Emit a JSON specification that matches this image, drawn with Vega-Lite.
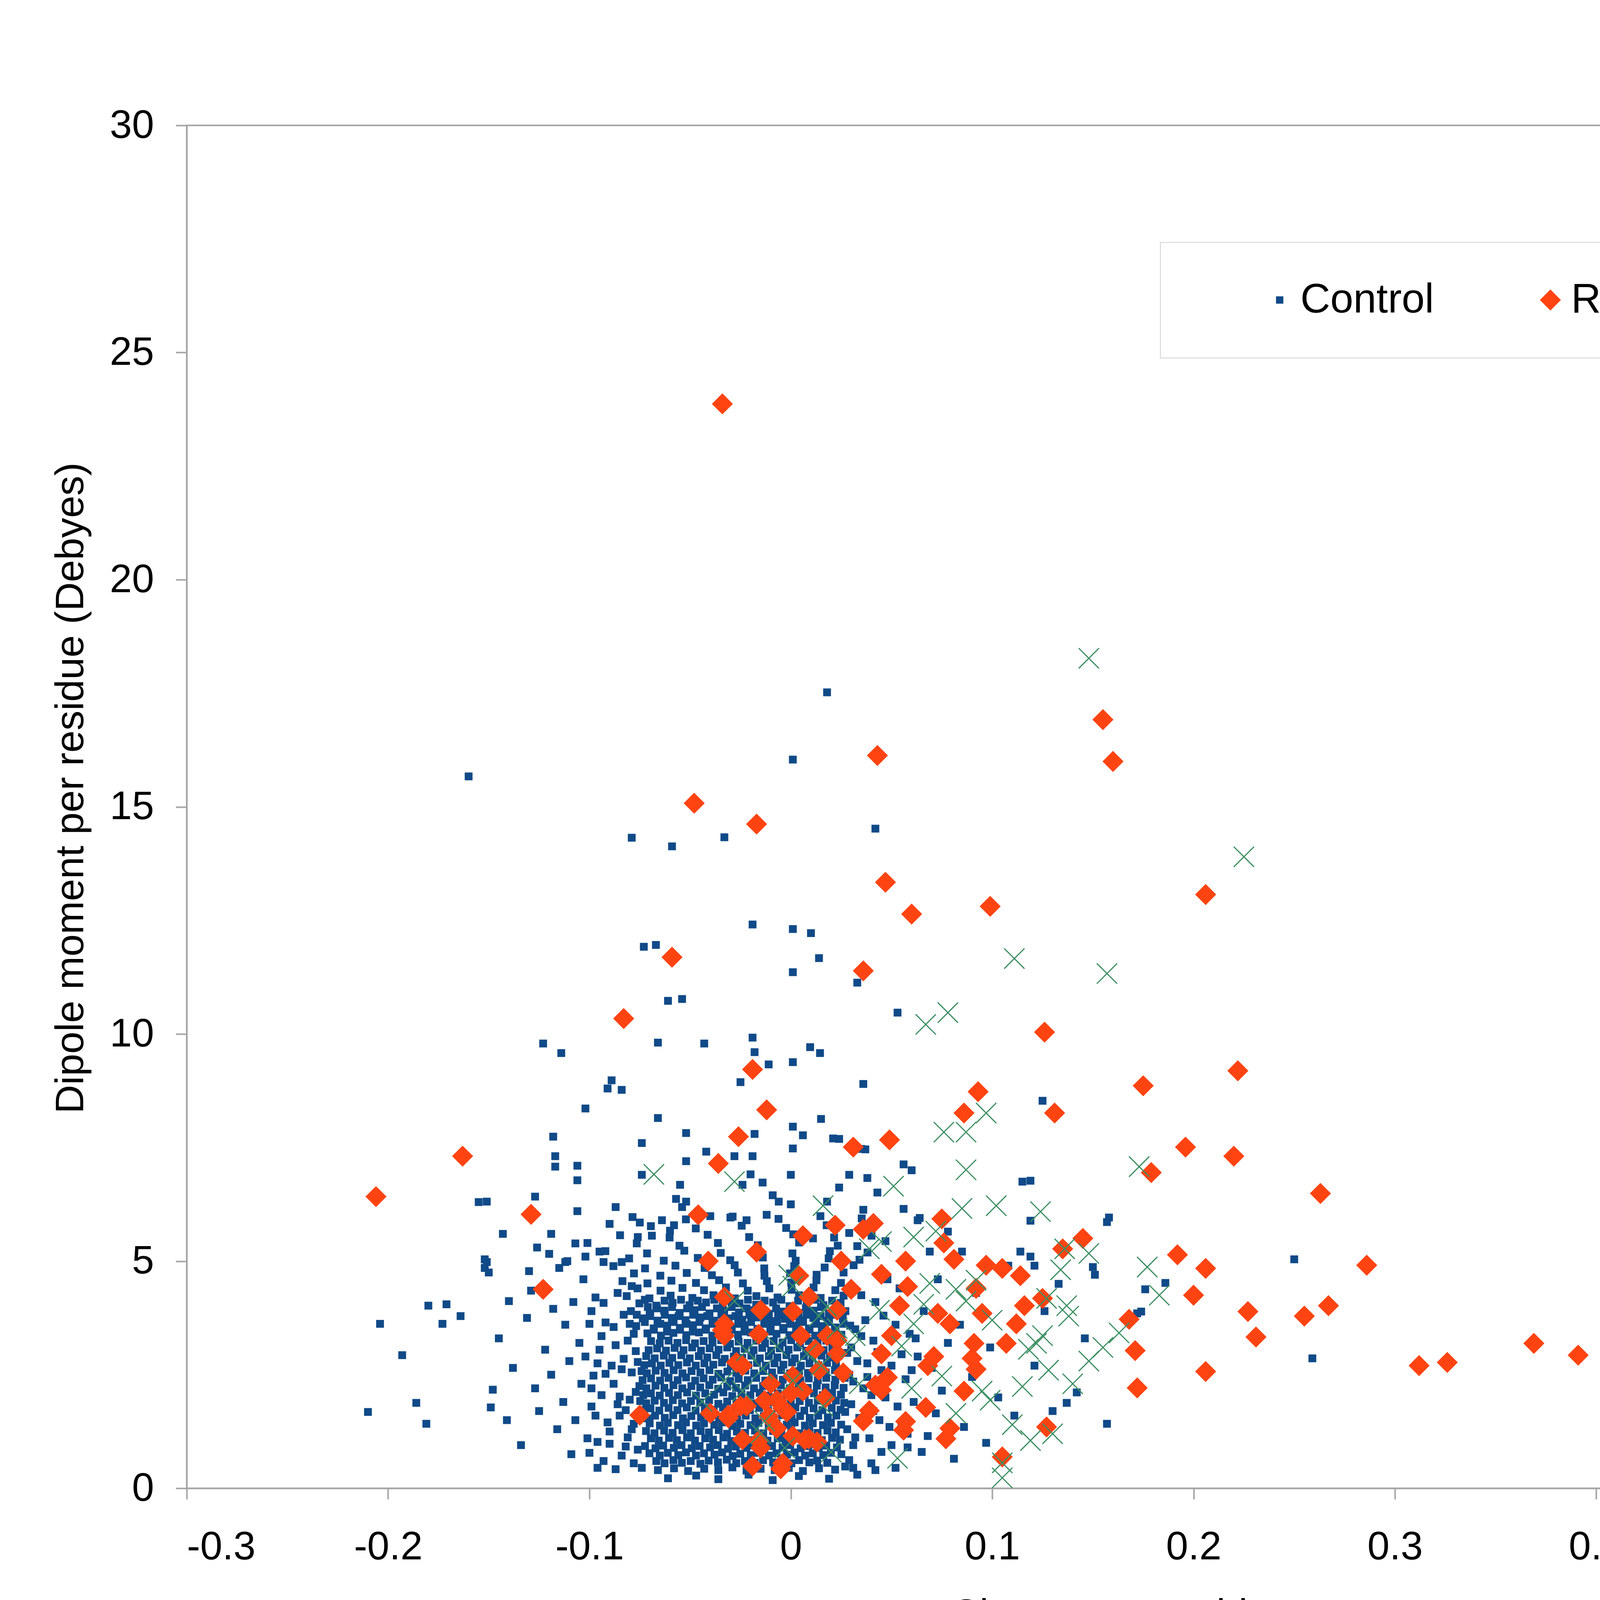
{
"$schema":"https://vega.github.io/schema/vega-lite/v6.json",
"width":5155,"height":3489,
"autosize":{"type":"none"},
"padding":{"left":478,"top":321,"right":367,"bottom":690},
"background":"white",
"config":{
 "font":"Liberation Sans",
 "view":{"stroke":"#a6a6a6","strokeWidth":4},
 "axis":{"grid":false,"domainColor":"#a6a6a6","domainWidth":4,"tickColor":"#a6a6a6","tickWidth":4,"tickSize":28,"labelFont":"Liberation Sans","labelFontSize":102,"labelColor":"#000000","titleFont":"Liberation Sans","titleFontSize":102,"titleFontWeight":"normal","titleColor":"#000000"}
},
"data":{"values":[
{"s":"c","x":-0.061,"y":0.22},{"s":"c","x":-0.047,"y":0.28},{"s":"c","x":-0.036,"y":0.2},{"s":"c","x":-0.021,"y":0.3},{"s":"c","x":-0.009,"y":0.18},{"s":"c","x":0.004,"y":0.27},{"s":"c","x":0.019,"y":0.21},{"s":"c","x":0.033,"y":0.3},
{"s":"c","x":-0.074,"y":0.45},{"s":"c","x":-0.066,"y":0.4},{"s":"c","x":-0.058,"y":0.44},{"s":"c","x":-0.051,"y":0.38},{"s":"c","x":-0.043,"y":0.43},{"s":"c","x":-0.036,"y":0.4},{"s":"c","x":-0.029,"y":0.46},{"s":"c","x":-0.022,"y":0.39},{"s":"c","x":-0.015,"y":0.43},{"s":"c","x":-0.008,"y":0.4},{"s":"c","x":-0.001,"y":0.45},{"s":"c","x":0.006,"y":0.38},{"s":"c","x":0.014,"y":0.44},{"s":"c","x":0.022,"y":0.41},{"s":"c","x":0.031,"y":0.45},{"s":"c","x":0.042,"y":0.4},
{"s":"c","x":-0.0668,"y":0.6},{"s":"c","x":-0.0627,"y":0.55},{"s":"c","x":-0.0583,"y":0.62},{"s":"c","x":-0.0541,"y":0.56},{"s":"c","x":-0.0497,"y":0.6},{"s":"c","x":-0.0449,"y":0.54},{"s":"c","x":-0.0408,"y":0.61},{"s":"c","x":-0.0362,"y":0.57},{"s":"c","x":-0.0318,"y":0.63},{"s":"c","x":-0.0271,"y":0.55},{"s":"c","x":-0.0228,"y":0.6},{"s":"c","x":-0.0179,"y":0.56},{"s":"c","x":-0.0138,"y":0.62},{"s":"c","x":-0.0088,"y":0.57},{"s":"c","x":-0.0047,"y":0.6},{"s":"c","x":0.0003,"y":0.55},{"s":"c","x":0.0041,"y":0.62},{"s":"c","x":0.0092,"y":0.57},{"s":"c","x":0.0131,"y":0.61},{"s":"c","x":0.0181,"y":0.56},
{"s":"c","x":-0.0702,"y":0.77},{"s":"c","x":-0.0651,"y":0.72},{"s":"c","x":-0.0611,"y":0.78},{"s":"c","x":-0.0559,"y":0.73},{"s":"c","x":-0.0521,"y":0.79},{"s":"c","x":-0.0471,"y":0.72},{"s":"c","x":-0.0431,"y":0.77},{"s":"c","x":-0.0379,"y":0.74},{"s":"c","x":-0.0341,"y":0.79},{"s":"c","x":-0.0289,"y":0.71},{"s":"c","x":-0.0251,"y":0.76},{"s":"c","x":-0.0199,"y":0.73},{"s":"c","x":-0.0161,"y":0.78},{"s":"c","x":-0.0109,"y":0.72},{"s":"c","x":-0.0071,"y":0.77},{"s":"c","x":-0.0019,"y":0.74},{"s":"c","x":0.0019,"y":0.79},{"s":"c","x":0.0071,"y":0.72},{"s":"c","x":0.0109,"y":0.77},{"s":"c","x":0.0161,"y":0.73},{"s":"c","x":0.0199,"y":0.78},{"s":"c","x":0.0251,"y":0.75},
{"s":"c","x":-0.0724,"y":0.93},{"s":"c","x":-0.0672,"y":0.88},{"s":"c","x":-0.0634,"y":0.94},{"s":"c","x":-0.0581,"y":0.89},{"s":"c","x":-0.0543,"y":0.95},{"s":"c","x":-0.0492,"y":0.88},{"s":"c","x":-0.0453,"y":0.93},{"s":"c","x":-0.0401,"y":0.9},{"s":"c","x":-0.0363,"y":0.95},{"s":"c","x":-0.0312,"y":0.87},{"s":"c","x":-0.0273,"y":0.92},{"s":"c","x":-0.0221,"y":0.89},{"s":"c","x":-0.0184,"y":0.94},{"s":"c","x":-0.0131,"y":0.88},{"s":"c","x":-0.0093,"y":0.93},{"s":"c","x":-0.0041,"y":0.9},{"s":"c","x":-0.0003,"y":0.95},{"s":"c","x":0.0049,"y":0.88},{"s":"c","x":0.0087,"y":0.93},{"s":"c","x":0.0139,"y":0.89},{"s":"c","x":0.0176,"y":0.94},{"s":"c","x":0.0229,"y":0.9},
{"s":"c","x":-0.0695,"y":1.1},{"s":"c","x":-0.0656,"y":1.05},{"s":"c","x":-0.0605,"y":1.11},{"s":"c","x":-0.0566,"y":1.06},{"s":"c","x":-0.0515,"y":1.12},{"s":"c","x":-0.0476,"y":1.05},{"s":"c","x":-0.0425,"y":1.1},{"s":"c","x":-0.0386,"y":1.07},{"s":"c","x":-0.0335,"y":1.12},{"s":"c","x":-0.0296,"y":1.04},{"s":"c","x":-0.0245,"y":1.09},{"s":"c","x":-0.0206,"y":1.06},{"s":"c","x":-0.0155,"y":1.11},{"s":"c","x":-0.0116,"y":1.05},{"s":"c","x":-0.0065,"y":1.1},{"s":"c","x":-0.0026,"y":1.07},{"s":"c","x":0.0025,"y":1.12},{"s":"c","x":0.0064,"y":1.05},{"s":"c","x":0.0115,"y":1.1},{"s":"c","x":0.0154,"y":1.06},{"s":"c","x":0.0205,"y":1.11},{"s":"c","x":0.0244,"y":1.07},
{"s":"c","x":-0.0719,"y":1.26},{"s":"c","x":-0.0677,"y":1.21},{"s":"c","x":-0.0629,"y":1.27},{"s":"c","x":-0.0587,"y":1.22},{"s":"c","x":-0.0538,"y":1.28},{"s":"c","x":-0.0497,"y":1.21},{"s":"c","x":-0.0448,"y":1.26},{"s":"c","x":-0.0407,"y":1.23},{"s":"c","x":-0.0358,"y":1.28},{"s":"c","x":-0.0317,"y":1.2},{"s":"c","x":-0.0268,"y":1.25},{"s":"c","x":-0.0227,"y":1.22},{"s":"c","x":-0.0178,"y":1.27},{"s":"c","x":-0.0137,"y":1.21},{"s":"c","x":-0.0088,"y":1.26},{"s":"c","x":-0.0047,"y":1.23},{"s":"c","x":0.0002,"y":1.28},{"s":"c","x":0.0043,"y":1.21},{"s":"c","x":0.0092,"y":1.26},{"s":"c","x":0.0133,"y":1.22},{"s":"c","x":0.0182,"y":1.27},{"s":"c","x":0.0223,"y":1.23},
{"s":"c","x":-0.0701,"y":1.43},{"s":"c","x":-0.065,"y":1.38},{"s":"c","x":-0.0611,"y":1.44},{"s":"c","x":-0.056,"y":1.39},{"s":"c","x":-0.0521,"y":1.45},{"s":"c","x":-0.047,"y":1.38},{"s":"c","x":-0.0431,"y":1.43},{"s":"c","x":-0.038,"y":1.4},{"s":"c","x":-0.0341,"y":1.45},{"s":"c","x":-0.029,"y":1.37},{"s":"c","x":-0.0251,"y":1.42},{"s":"c","x":-0.02,"y":1.39},{"s":"c","x":-0.0161,"y":1.44},{"s":"c","x":-0.011,"y":1.38},{"s":"c","x":-0.0071,"y":1.43},{"s":"c","x":-0.002,"y":1.4},{"s":"c","x":0.0019,"y":1.45},{"s":"c","x":0.007,"y":1.38},{"s":"c","x":0.0109,"y":1.43},{"s":"c","x":0.016,"y":1.39},{"s":"c","x":0.0199,"y":1.44},{"s":"c","x":0.025,"y":1.4},
{"s":"c","x":-0.0745,"y":1.59},{"s":"c","x":-0.0713,"y":1.54},{"s":"c","x":-0.0674,"y":1.6},{"s":"c","x":-0.0626,"y":1.55},{"s":"c","x":-0.0584,"y":1.61},{"s":"c","x":-0.0536,"y":1.54},{"s":"c","x":-0.0494,"y":1.59},{"s":"c","x":-0.0446,"y":1.56},{"s":"c","x":-0.0404,"y":1.61},{"s":"c","x":-0.0356,"y":1.53},{"s":"c","x":-0.0314,"y":1.58},{"s":"c","x":-0.0266,"y":1.55},{"s":"c","x":-0.0224,"y":1.6},{"s":"c","x":-0.0176,"y":1.54},{"s":"c","x":-0.0134,"y":1.59},{"s":"c","x":-0.0086,"y":1.56},{"s":"c","x":-0.0044,"y":1.61},{"s":"c","x":0.0004,"y":1.54},{"s":"c","x":0.0046,"y":1.59},{"s":"c","x":0.0094,"y":1.55},{"s":"c","x":0.0136,"y":1.6},{"s":"c","x":0.0184,"y":1.56},{"s":"c","x":0.0226,"y":1.6},
{"s":"c","x":-0.0729,"y":1.72},{"s":"c","x":-0.0697,"y":1.76},{"s":"c","x":-0.0653,"y":1.71},{"s":"c","x":-0.0607,"y":1.77},{"s":"c","x":-0.0563,"y":1.72},{"s":"c","x":-0.0517,"y":1.78},{"s":"c","x":-0.0473,"y":1.71},{"s":"c","x":-0.0427,"y":1.76},{"s":"c","x":-0.0383,"y":1.73},{"s":"c","x":-0.0337,"y":1.78},{"s":"c","x":-0.0293,"y":1.7},{"s":"c","x":-0.0247,"y":1.75},{"s":"c","x":-0.0203,"y":1.72},{"s":"c","x":-0.0157,"y":1.77},{"s":"c","x":-0.0113,"y":1.71},{"s":"c","x":-0.0067,"y":1.76},{"s":"c","x":-0.0023,"y":1.73},{"s":"c","x":0.0023,"y":1.78},{"s":"c","x":0.0067,"y":1.71},{"s":"c","x":0.0113,"y":1.76},{"s":"c","x":0.0157,"y":1.72},{"s":"c","x":0.0203,"y":1.77},{"s":"c","x":0.0247,"y":1.73},
{"s":"c","x":-0.0748,"y":1.92},{"s":"c","x":-0.0718,"y":1.87},{"s":"c","x":-0.0676,"y":1.93},{"s":"c","x":-0.063,"y":1.88},{"s":"c","x":-0.0586,"y":1.94},{"s":"c","x":-0.054,"y":1.87},{"s":"c","x":-0.0496,"y":1.92},{"s":"c","x":-0.045,"y":1.89},{"s":"c","x":-0.0406,"y":1.94},{"s":"c","x":-0.036,"y":1.86},{"s":"c","x":-0.0316,"y":1.91},{"s":"c","x":-0.027,"y":1.88},{"s":"c","x":-0.0226,"y":1.93},{"s":"c","x":-0.018,"y":1.87},{"s":"c","x":-0.0136,"y":1.92},{"s":"c","x":-0.009,"y":1.89},{"s":"c","x":-0.0046,"y":1.94},{"s":"c","x":0.0,"y":1.87},{"s":"c","x":0.0044,"y":1.92},{"s":"c","x":0.009,"y":1.88},{"s":"c","x":0.0134,"y":1.93},{"s":"c","x":0.018,"y":1.89},{"s":"c","x":0.0224,"y":1.93},{"s":"c","x":0.0265,"y":1.88},
{"s":"c","x":-0.0733,"y":2.05},{"s":"c","x":-0.0695,"y":2.09},{"s":"c","x":-0.0651,"y":2.04},{"s":"c","x":-0.0605,"y":2.1},{"s":"c","x":-0.0561,"y":2.05},{"s":"c","x":-0.0515,"y":2.11},{"s":"c","x":-0.0471,"y":2.04},{"s":"c","x":-0.0425,"y":2.09},{"s":"c","x":-0.0381,"y":2.06},{"s":"c","x":-0.0335,"y":2.11},{"s":"c","x":-0.0291,"y":2.03},{"s":"c","x":-0.0245,"y":2.08},{"s":"c","x":-0.0201,"y":2.05},{"s":"c","x":-0.0155,"y":2.1},{"s":"c","x":-0.0111,"y":2.04},{"s":"c","x":-0.0065,"y":2.09},{"s":"c","x":-0.0021,"y":2.06},{"s":"c","x":0.0025,"y":2.11},{"s":"c","x":0.0069,"y":2.04},{"s":"c","x":0.0115,"y":2.09},{"s":"c","x":0.0159,"y":2.05},{"s":"c","x":0.0205,"y":2.1},{"s":"c","x":0.0249,"y":2.06},
{"s":"c","x":-0.0752,"y":2.25},{"s":"c","x":-0.0717,"y":2.2},{"s":"c","x":-0.0672,"y":2.26},{"s":"c","x":-0.0628,"y":2.21},{"s":"c","x":-0.0583,"y":2.27},{"s":"c","x":-0.0539,"y":2.2},{"s":"c","x":-0.0494,"y":2.25},{"s":"c","x":-0.045,"y":2.22},{"s":"c","x":-0.0405,"y":2.27},{"s":"c","x":-0.0361,"y":2.19},{"s":"c","x":-0.0316,"y":2.24},{"s":"c","x":-0.0272,"y":2.21},{"s":"c","x":-0.0227,"y":2.26},{"s":"c","x":-0.0183,"y":2.2},{"s":"c","x":-0.0138,"y":2.25},{"s":"c","x":-0.0094,"y":2.22},{"s":"c","x":-0.0049,"y":2.27},{"s":"c","x":-0.0005,"y":2.2},{"s":"c","x":0.004,"y":2.25},{"s":"c","x":0.0084,"y":2.21},{"s":"c","x":0.0129,"y":2.26},{"s":"c","x":0.0173,"y":2.22},{"s":"c","x":0.0218,"y":2.27},{"s":"c","x":0.0262,"y":2.21},
{"s":"c","x":-0.0736,"y":2.38},{"s":"c","x":-0.0694,"y":2.42},{"s":"c","x":-0.0649,"y":2.37},{"s":"c","x":-0.0607,"y":2.43},{"s":"c","x":-0.0562,"y":2.38},{"s":"c","x":-0.052,"y":2.44},{"s":"c","x":-0.0475,"y":2.37},{"s":"c","x":-0.0433,"y":2.42},{"s":"c","x":-0.0388,"y":2.39},{"s":"c","x":-0.0346,"y":2.44},{"s":"c","x":-0.0301,"y":2.36},{"s":"c","x":-0.0259,"y":2.41},{"s":"c","x":-0.0214,"y":2.38},{"s":"c","x":-0.0172,"y":2.43},{"s":"c","x":-0.0127,"y":2.37},{"s":"c","x":-0.0085,"y":2.42},{"s":"c","x":-0.004,"y":2.39},{"s":"c","x":0.0002,"y":2.44},{"s":"c","x":0.0047,"y":2.37},{"s":"c","x":0.0089,"y":2.42},{"s":"c","x":0.0134,"y":2.38},{"s":"c","x":0.0176,"y":2.43},{"s":"c","x":0.0221,"y":2.39},{"s":"c","x":0.0268,"y":2.43},
{"s":"c","x":-0.0741,"y":2.58},{"s":"c","x":-0.0715,"y":2.53},{"s":"c","x":-0.0671,"y":2.59},{"s":"c","x":-0.0627,"y":2.54},{"s":"c","x":-0.0582,"y":2.6},{"s":"c","x":-0.0538,"y":2.53},{"s":"c","x":-0.0493,"y":2.58},{"s":"c","x":-0.0449,"y":2.55},{"s":"c","x":-0.0404,"y":2.6},{"s":"c","x":-0.036,"y":2.52},{"s":"c","x":-0.0315,"y":2.57},{"s":"c","x":-0.0271,"y":2.54},{"s":"c","x":-0.0226,"y":2.59},{"s":"c","x":-0.0182,"y":2.53},{"s":"c","x":-0.0137,"y":2.58},{"s":"c","x":-0.0093,"y":2.55},{"s":"c","x":-0.0048,"y":2.6},{"s":"c","x":-0.0004,"y":2.53},{"s":"c","x":0.0041,"y":2.58},{"s":"c","x":0.0085,"y":2.54},{"s":"c","x":0.013,"y":2.59},{"s":"c","x":0.0174,"y":2.55},{"s":"c","x":0.0219,"y":2.6},
{"s":"c","x":-0.0728,"y":2.71},{"s":"c","x":-0.069,"y":2.75},{"s":"c","x":-0.0646,"y":2.7},{"s":"c","x":-0.0603,"y":2.76},{"s":"c","x":-0.0559,"y":2.71},{"s":"c","x":-0.0516,"y":2.77},{"s":"c","x":-0.0472,"y":2.7},{"s":"c","x":-0.0429,"y":2.75},{"s":"c","x":-0.0385,"y":2.72},{"s":"c","x":-0.0342,"y":2.77},{"s":"c","x":-0.0298,"y":2.69},{"s":"c","x":-0.0255,"y":2.74},{"s":"c","x":-0.0211,"y":2.71},{"s":"c","x":-0.0168,"y":2.76},{"s":"c","x":-0.0124,"y":2.7},{"s":"c","x":-0.0081,"y":2.75},{"s":"c","x":-0.0037,"y":2.72},{"s":"c","x":0.0006,"y":2.77},{"s":"c","x":0.005,"y":2.7},{"s":"c","x":0.0093,"y":2.75},{"s":"c","x":0.0137,"y":2.71},{"s":"c","x":0.018,"y":2.76},{"s":"c","x":0.0224,"y":2.72},
{"s":"c","x":-0.0718,"y":2.91},{"s":"c","x":-0.0676,"y":2.86},{"s":"c","x":-0.0631,"y":2.92},{"s":"c","x":-0.0589,"y":2.87},{"s":"c","x":-0.0544,"y":2.93},{"s":"c","x":-0.0502,"y":2.86},{"s":"c","x":-0.0457,"y":2.91},{"s":"c","x":-0.0415,"y":2.88},{"s":"c","x":-0.037,"y":2.93},{"s":"c","x":-0.0328,"y":2.85},{"s":"c","x":-0.0283,"y":2.9},{"s":"c","x":-0.0241,"y":2.87},{"s":"c","x":-0.0196,"y":2.92},{"s":"c","x":-0.0154,"y":2.86},{"s":"c","x":-0.0109,"y":2.91},{"s":"c","x":-0.0067,"y":2.88},{"s":"c","x":-0.0022,"y":2.93},{"s":"c","x":0.002,"y":2.86},{"s":"c","x":0.0065,"y":2.91},{"s":"c","x":0.0107,"y":2.87},{"s":"c","x":0.0152,"y":2.92},{"s":"c","x":0.0194,"y":2.88},{"s":"c","x":0.0238,"y":2.92},
{"s":"c","x":-0.0706,"y":3.04},{"s":"c","x":-0.0664,"y":3.08},{"s":"c","x":-0.062,"y":3.03},{"s":"c","x":-0.0577,"y":3.09},{"s":"c","x":-0.0533,"y":3.04},{"s":"c","x":-0.049,"y":3.1},{"s":"c","x":-0.0446,"y":3.03},{"s":"c","x":-0.0403,"y":3.08},{"s":"c","x":-0.0359,"y":3.05},{"s":"c","x":-0.0316,"y":3.1},{"s":"c","x":-0.0272,"y":3.02},{"s":"c","x":-0.0229,"y":3.07},{"s":"c","x":-0.0185,"y":3.04},{"s":"c","x":-0.0142,"y":3.09},{"s":"c","x":-0.0098,"y":3.03},{"s":"c","x":-0.0055,"y":3.08},{"s":"c","x":-0.0011,"y":3.05},{"s":"c","x":0.0032,"y":3.1},{"s":"c","x":0.0076,"y":3.03},{"s":"c","x":0.0119,"y":3.08},{"s":"c","x":0.0163,"y":3.04},{"s":"c","x":0.0206,"y":3.09},
{"s":"c","x":-0.0694,"y":3.24},{"s":"c","x":-0.0651,"y":3.19},{"s":"c","x":-0.0607,"y":3.25},{"s":"c","x":-0.0563,"y":3.2},{"s":"c","x":-0.052,"y":3.26},{"s":"c","x":-0.0476,"y":3.19},{"s":"c","x":-0.0433,"y":3.24},{"s":"c","x":-0.0389,"y":3.21},{"s":"c","x":-0.0346,"y":3.26},{"s":"c","x":-0.0302,"y":3.18},{"s":"c","x":-0.0259,"y":3.23},{"s":"c","x":-0.0215,"y":3.2},{"s":"c","x":-0.0172,"y":3.25},{"s":"c","x":-0.0128,"y":3.19},{"s":"c","x":-0.0085,"y":3.24},{"s":"c","x":-0.0041,"y":3.21},{"s":"c","x":0.0002,"y":3.26},{"s":"c","x":0.0046,"y":3.19},{"s":"c","x":0.0089,"y":3.24},{"s":"c","x":0.0133,"y":3.2},{"s":"c","x":0.0176,"y":3.25},
{"s":"c","x":-0.0712,"y":3.41},{"s":"c","x":-0.0645,"y":3.36},{"s":"c","x":-0.0583,"y":3.42},{"s":"c","x":-0.0519,"y":3.37},{"s":"c","x":-0.0456,"y":3.43},{"s":"c","x":-0.039,"y":3.36},{"s":"c","x":-0.0327,"y":3.41},{"s":"c","x":-0.0262,"y":3.38},{"s":"c","x":-0.0198,"y":3.43},{"s":"c","x":-0.0135,"y":3.35},{"s":"c","x":-0.0071,"y":3.4},{"s":"c","x":-0.0007,"y":3.37},{"s":"c","x":0.0058,"y":3.42},{"s":"c","x":0.0121,"y":3.36},{"s":"c","x":0.0186,"y":3.41},{"s":"c","x":0.0251,"y":3.38},
{"s":"c","x":-0.068,"y":3.49},{"s":"c","x":-0.0615,"y":3.45},{"s":"c","x":-0.0551,"y":3.49},{"s":"c","x":-0.0487,"y":3.45},{"s":"c","x":-0.0423,"y":3.49},{"s":"c","x":-0.0359,"y":3.45},{"s":"c","x":-0.0294,"y":3.49},{"s":"c","x":-0.023,"y":3.45},{"s":"c","x":-0.0166,"y":3.49},{"s":"c","x":-0.0102,"y":3.45},{"s":"c","x":-0.0038,"y":3.49},{"s":"c","x":0.0026,"y":3.45},{"s":"c","x":0.009,"y":3.49},{"s":"c","x":0.0154,"y":3.45},{"s":"c","x":0.0219,"y":3.49},
{"s":"c","x":-0.0768,"y":3.57},{"s":"c","x":-0.0681,"y":3.52},{"s":"c","x":-0.0614,"y":3.58},{"s":"c","x":-0.055,"y":3.53},{"s":"c","x":-0.0486,"y":3.59},{"s":"c","x":-0.0421,"y":3.52},{"s":"c","x":-0.0357,"y":3.57},{"s":"c","x":-0.0293,"y":3.54},{"s":"c","x":-0.0229,"y":3.59},{"s":"c","x":-0.0165,"y":3.51},{"s":"c","x":-0.01,"y":3.56},{"s":"c","x":-0.0036,"y":3.53},{"s":"c","x":0.0029,"y":3.58},{"s":"c","x":0.0093,"y":3.52},{"s":"c","x":0.0157,"y":3.57},{"s":"c","x":0.0222,"y":3.54},{"s":"c","x":0.0295,"y":3.58},
{"s":"c","x":-0.0725,"y":3.66},{"s":"c","x":-0.0648,"y":3.62},{"s":"c","x":-0.0582,"y":3.66},{"s":"c","x":-0.0518,"y":3.62},{"s":"c","x":-0.0454,"y":3.66},{"s":"c","x":-0.0389,"y":3.62},{"s":"c","x":-0.0325,"y":3.66},{"s":"c","x":-0.0261,"y":3.62},{"s":"c","x":-0.0197,"y":3.66},{"s":"c","x":-0.0132,"y":3.62},{"s":"c","x":-0.0068,"y":3.66},{"s":"c","x":-0.0004,"y":3.62},{"s":"c","x":0.0061,"y":3.66},{"s":"c","x":0.0125,"y":3.62},{"s":"c","x":0.019,"y":3.66},{"s":"c","x":0.0262,"y":3.62},
{"s":"c","x":-0.0735,"y":3.74},{"s":"c","x":-0.0662,"y":3.69},{"s":"c","x":-0.0591,"y":3.75},{"s":"c","x":-0.0523,"y":3.7},{"s":"c","x":-0.0449,"y":3.76},{"s":"c","x":-0.0381,"y":3.69},{"s":"c","x":-0.0309,"y":3.74},{"s":"c","x":-0.0241,"y":3.71},{"s":"c","x":-0.0172,"y":3.76},{"s":"c","x":-0.0098,"y":3.68},{"s":"c","x":-0.0029,"y":3.73},{"s":"c","x":0.0043,"y":3.7},{"s":"c","x":0.0112,"y":3.75},{"s":"c","x":0.0184,"y":3.69},{"s":"c","x":0.0258,"y":3.74},
{"s":"c","x":-0.0765,"y":3.82},{"s":"c","x":-0.0698,"y":3.79},{"s":"c","x":-0.0626,"y":3.82},{"s":"c","x":-0.0557,"y":3.79},{"s":"c","x":-0.0485,"y":3.82},{"s":"c","x":-0.0415,"y":3.79},{"s":"c","x":-0.0345,"y":3.82},{"s":"c","x":-0.0275,"y":3.79},{"s":"c","x":-0.0206,"y":3.82},{"s":"c","x":-0.0135,"y":3.79},{"s":"c","x":-0.0063,"y":3.82},{"s":"c","x":0.0007,"y":3.79},{"s":"c","x":0.0078,"y":3.82},{"s":"c","x":0.0148,"y":3.79},{"s":"c","x":0.022,"y":3.82},
{"s":"c","x":-0.0794,"y":3.9},{"s":"c","x":-0.0701,"y":3.85},{"s":"c","x":-0.0629,"y":3.91},{"s":"c","x":-0.0552,"y":3.86},{"s":"c","x":-0.0478,"y":3.92},{"s":"c","x":-0.0404,"y":3.85},{"s":"c","x":-0.0331,"y":3.9},{"s":"c","x":-0.0258,"y":3.87},{"s":"c","x":-0.0183,"y":3.92},{"s":"c","x":-0.0109,"y":3.84},{"s":"c","x":-0.0037,"y":3.89},{"s":"c","x":0.0038,"y":3.86},{"s":"c","x":0.0113,"y":3.91},{"s":"c","x":0.0189,"y":3.85},{"s":"c","x":0.0271,"y":3.9},
{"s":"c","x":-0.071,"y":3.99},{"s":"c","x":-0.0665,"y":3.96},{"s":"c","x":-0.059,"y":3.99},{"s":"c","x":-0.0515,"y":3.96},{"s":"c","x":-0.0441,"y":3.99},{"s":"c","x":-0.0367,"y":3.96},{"s":"c","x":-0.0294,"y":3.99},{"s":"c","x":-0.022,"y":3.96},{"s":"c","x":-0.0146,"y":3.99},{"s":"c","x":-0.0073,"y":3.96},{"s":"c","x":0.0001,"y":3.99},{"s":"c","x":0.0075,"y":3.96},{"s":"c","x":0.015,"y":3.99},{"s":"c","x":0.0228,"y":3.96},
{"s":"c","x":-0.0752,"y":4.07},{"s":"c","x":-0.0668,"y":4.02},{"s":"c","x":-0.0587,"y":4.08},{"s":"c","x":-0.0503,"y":4.03},{"s":"c","x":-0.0421,"y":4.09},{"s":"c","x":-0.0338,"y":4.02},{"s":"c","x":-0.0255,"y":4.07},{"s":"c","x":-0.0172,"y":4.04},{"s":"c","x":-0.0088,"y":4.09},{"s":"c","x":-0.0006,"y":4.01},{"s":"c","x":0.0079,"y":4.06},{"s":"c","x":0.0162,"y":4.03},{"s":"c","x":0.0247,"y":4.08},
{"s":"c","x":-0.0725,"y":4.15},{"s":"c","x":-0.0627,"y":4.13},{"s":"c","x":-0.0545,"y":4.15},{"s":"c","x":-0.0462,"y":4.13},{"s":"c","x":-0.038,"y":4.15},{"s":"c","x":-0.0296,"y":4.13},{"s":"c","x":-0.0213,"y":4.15},{"s":"c","x":-0.013,"y":4.13},{"s":"c","x":-0.0047,"y":4.15},{"s":"c","x":0.0036,"y":4.13},{"s":"c","x":0.012,"y":4.15},{"s":"c","x":0.0205,"y":4.13},
{"s":"c","x":-0.0815,"y":4.23},{"s":"c","x":-0.0702,"y":4.18},{"s":"c","x":-0.0597,"y":4.24},{"s":"c","x":-0.0489,"y":4.19},{"s":"c","x":-0.0384,"y":4.25},{"s":"c","x":-0.0278,"y":4.18},{"s":"c","x":-0.0171,"y":4.23},{"s":"c","x":-0.0066,"y":4.2},{"s":"c","x":0.0041,"y":4.25},{"s":"c","x":0.0148,"y":4.19},{"s":"c","x":0.0262,"y":4.24},
{"s":"c","x":-0.0761,"y":4.4},{"s":"c","x":-0.0647,"y":4.35},{"s":"c","x":-0.0538,"y":4.41},{"s":"c","x":-0.0431,"y":4.36},{"s":"c","x":-0.0322,"y":4.42},{"s":"c","x":-0.0214,"y":4.35},{"s":"c","x":-0.0107,"y":4.4},{"s":"c","x":0.0004,"y":4.37},{"s":"c","x":0.0113,"y":4.42},{"s":"c","x":0.0221,"y":4.36},
{"s":"c","x":-0.0836,"y":4.56},{"s":"c","x":-0.0712,"y":4.51},{"s":"c","x":-0.0593,"y":4.57},{"s":"c","x":-0.0471,"y":4.52},{"s":"c","x":-0.0356,"y":4.58},{"s":"c","x":-0.0238,"y":4.51},{"s":"c","x":-0.0119,"y":4.56},{"s":"c","x":0.0002,"y":4.53},{"s":"c","x":0.0127,"y":4.58},{"s":"c","x":0.0249,"y":4.52},
{"s":"c","x":-0.0779,"y":4.73},{"s":"c","x":-0.0648,"y":4.68},{"s":"c","x":-0.0517,"y":4.74},{"s":"c","x":-0.0392,"y":4.69},{"s":"c","x":-0.0263,"y":4.75},{"s":"c","x":-0.0131,"y":4.68},{"s":"c","x":-0.0004,"y":4.73},{"s":"c","x":0.0128,"y":4.7},{"s":"c","x":0.0262,"y":4.75},
{"s":"c","x":-0.0881,"y":4.89},{"s":"c","x":-0.0724,"y":4.84},{"s":"c","x":-0.0573,"y":4.9},{"s":"c","x":-0.0428,"y":4.85},{"s":"c","x":-0.0279,"y":4.91},{"s":"c","x":-0.0132,"y":4.84},{"s":"c","x":0.0017,"y":4.89},{"s":"c","x":0.0168,"y":4.86},{"s":"c","x":0.0312,"y":4.91},
{"s":"c","x":-0.0803,"y":5.06},{"s":"c","x":-0.0631,"y":5.01},{"s":"c","x":-0.0462,"y":5.07},{"s":"c","x":-0.0301,"y":5.02},{"s":"c","x":-0.0139,"y":5.08},{"s":"c","x":0.0024,"y":5.01},{"s":"c","x":0.0188,"y":5.06},{"s":"c","x":0.0341,"y":5.03},
{"s":"c","x":-0.0921,"y":5.22},{"s":"c","x":-0.0714,"y":5.17},{"s":"c","x":-0.0529,"y":5.23},{"s":"c","x":-0.0348,"y":5.18},{"s":"c","x":-0.0171,"y":5.24},{"s":"c","x":0.0008,"y":5.17},{"s":"c","x":0.0194,"y":5.22},{"s":"c","x":0.0381,"y":5.19},
{"s":"c","x":-0.0765,"y":5.39},{"s":"c","x":-0.0553,"y":5.34},{"s":"c","x":-0.0362,"y":5.4},{"s":"c","x":-0.0164,"y":5.35},{"s":"c","x":0.0041,"y":5.41},{"s":"c","x":0.0233,"y":5.34},
{"s":"c","x":-0.0848,"y":5.57},{"s":"c","x":-0.0602,"y":5.52},{"s":"c","x":-0.0413,"y":5.58},{"s":"c","x":-0.0207,"y":5.53},{"s":"c","x":0.0012,"y":5.59},{"s":"c","x":0.0215,"y":5.52},{"s":"c","x":0.0401,"y":5.56},
{"s":"c","x":-0.0695,"y":5.77},{"s":"c","x":-0.0472,"y":5.72},{"s":"c","x":-0.0244,"y":5.78},{"s":"c","x":-0.0023,"y":5.73},{"s":"c","x":0.0178,"y":5.79},
{"s":"c","x":-0.0786,"y":5.97},{"s":"c","x":-0.0521,"y":5.92},{"s":"c","x":-0.0289,"y":5.98},{"s":"c","x":-0.0061,"y":5.93},{"s":"c","x":0.0147,"y":5.99},{"s":"c","x":0.0352,"y":5.94},
{"s":"c","x":-0.078,"y":0.55},{"s":"c","x":-0.082,"y":0.92},{"s":"c","x":-0.079,"y":1.3},{"s":"c","x":-0.085,"y":1.6},{"s":"c","x":-0.08,"y":1.95},{"s":"c","x":-0.088,"y":2.3},{"s":"c","x":-0.079,"y":2.55},{"s":"c","x":-0.083,"y":2.85},{"s":"c","x":-0.087,"y":3.15},{"s":"c","x":-0.078,"y":3.4},{"s":"c","x":-0.092,"y":3.65},{"s":"c","x":-0.081,"y":1.12},{"s":"c","x":-0.091,"y":1.45},{"s":"c","x":-0.094,"y":2.05},{"s":"c","x":-0.089,"y":2.7},{"s":"c","x":-0.077,"y":3.02},{"s":"c","x":-0.096,"y":1.02},{"s":"c","x":-0.084,"y":0.72},{"s":"c","x":-0.098,"y":2.48},{"s":"c","x":-0.086,"y":4.3},{"s":"c","x":-0.099,"y":3.9},{"s":"c","x":-0.093,"y":0.6},
{"s":"c","x":-0.076,"y":0.85},{"s":"c","x":-0.078,"y":1.42},{"s":"c","x":-0.077,"y":2.12},{"s":"c","x":-0.076,"y":2.78},{"s":"c","x":-0.081,"y":3.25},{"s":"c","x":-0.083,"y":3.82},{"s":"c","x":-0.079,"y":4.45},{"s":"c","x":-0.087,"y":0.42},{"s":"c","x":-0.09,"y":1.25},{"s":"c","x":-0.086,"y":1.85},{"s":"c","x":-0.092,"y":2.52},{"s":"c","x":-0.085,"y":2.02},{"s":"c","x":-0.095,"y":3.05},{"s":"c","x":-0.088,"y":3.55},{"s":"c","x":-0.093,"y":4.08},{"s":"c","x":-0.1,"y":0.78},{"s":"c","x":-0.097,"y":1.6},{"s":"c","x":-0.099,"y":2.2},{"s":"c","x":-0.096,"y":2.75},{"s":"c","x":-0.1,"y":3.62},{"s":"c","x":-0.082,"y":1.72},{"s":"c","x":-0.09,"y":0.98},{"s":"c","x":-0.084,"y":2.62},{"s":"c","x":-0.08,"y":3.62},
{"s":"c","x":0.029,"y":0.62},{"s":"c","x":0.031,"y":0.95},{"s":"c","x":0.028,"y":1.3},{"s":"c","x":0.034,"y":1.55},{"s":"c","x":0.03,"y":1.85},{"s":"c","x":0.036,"y":2.2},{"s":"c","x":0.029,"y":2.5},{"s":"c","x":0.033,"y":2.8},{"s":"c","x":0.03,"y":3.1},{"s":"c","x":0.035,"y":3.35},{"s":"c","x":0.039,"y":1.1},{"s":"c","x":0.041,"y":1.7},{"s":"c","x":0.038,"y":2.45},{"s":"c","x":0.043,"y":3.0},{"s":"c","x":0.045,"y":0.8},{"s":"c","x":0.037,"y":3.7},{"s":"c","x":0.042,"y":4.1},{"s":"c","x":0.047,"y":2.0},{"s":"c","x":0.049,"y":1.35},{"s":"c","x":0.05,"y":2.7},
{"s":"c","x":0.027,"y":0.48},{"s":"c","x":0.032,"y":1.12},{"s":"c","x":0.027,"y":1.68},{"s":"c","x":0.031,"y":2.35},{"s":"c","x":0.028,"y":2.98},{"s":"c","x":0.032,"y":3.5},{"s":"c","x":0.035,"y":4.25},{"s":"c","x":0.04,"y":0.55},{"s":"c","x":0.044,"y":1.5},{"s":"c","x":0.04,"y":2.05},{"s":"c","x":0.045,"y":2.6},{"s":"c","x":0.041,"y":3.25},{"s":"c","x":0.046,"y":3.8},{"s":"c","x":0.05,"y":0.95},{"s":"c","x":0.053,"y":1.8},{"s":"c","x":0.055,"y":2.95},{"s":"c","x":0.052,"y":3.6},{"s":"c","x":0.058,"y":1.2},{"s":"c","x":0.06,"y":2.6},{"s":"c","x":0.062,"y":3.3},{"s":"c","x":0.065,"y":0.8},{"s":"c","x":0.048,"y":4.6},{"s":"c","x":0.036,"y":1.45},{"s":"c","x":0.038,"y":2.75},
{"s":"c","x":-0.103,"y":4.6},{"s":"c","x":-0.108,"y":4.1},{"s":"c","x":-0.112,"y":3.6},{"s":"c","x":-0.105,"y":3.2},{"s":"c","x":-0.11,"y":2.8},{"s":"c","x":-0.104,"y":2.3},{"s":"c","x":-0.113,"y":1.9},{"s":"c","x":-0.107,"y":1.5},{"s":"c","x":-0.101,"y":1.1},{"s":"c","x":-0.109,"y":0.75},{"s":"c","x":-0.116,"y":1.3},{"s":"c","x":-0.119,"y":2.5},{"s":"c","x":-0.122,"y":3.05},{"s":"c","x":-0.118,"y":3.95},{"s":"c","x":-0.115,"y":4.85},{"s":"c","x":-0.125,"y":1.7},{"s":"c","x":-0.127,"y":2.2},{"s":"c","x":-0.131,"y":3.75},{"s":"c","x":-0.134,"y":0.95},{"s":"c","x":-0.129,"y":4.35},{"s":"c","x":-0.138,"y":2.65},{"s":"c","x":-0.141,"y":1.5},{"s":"c","x":-0.145,"y":3.3},{"s":"c","x":-0.148,"y":2.17},{"s":"c","x":-0.149,"y":1.78},{"s":"c","x":-0.14,"y":4.12},{"s":"c","x":-0.152,"y":5.04},{"s":"c","x":-0.152,"y":4.85},{"s":"c","x":-0.155,"y":6.3},{"s":"c","x":-0.143,"y":5.6},{"s":"c","x":-0.126,"y":5.3},{"s":"c","x":-0.119,"y":5.6},{"s":"c","x":-0.111,"y":5.0},{"s":"c","x":-0.101,"y":5.4},{"s":"c","x":-0.106,"y":6.1},{"s":"c","x":-0.097,"y":4.2},{"s":"c","x":-0.099,"y":1.8},{"s":"c","x":-0.096,"y":0.45},{"s":"c","x":-0.102,"y":2.9},{"s":"c","x":-0.094,"y":3.35},
{"s":"c","x":-0.171,"y":4.05},{"s":"c","x":-0.173,"y":3.62},{"s":"c","x":-0.18,"y":4.02},{"s":"c","x":-0.204,"y":3.62},{"s":"c","x":-0.193,"y":2.93},{"s":"c","x":-0.21,"y":1.68},{"s":"c","x":-0.186,"y":1.88},{"s":"c","x":-0.181,"y":1.42},{"s":"c","x":-0.164,"y":3.79},{"s":"c","x":-0.16,"y":15.67},
{"s":"c","x":0.052,"y":0.45},{"s":"c","x":0.058,"y":0.9},{"s":"c","x":0.055,"y":1.4},{"s":"c","x":0.061,"y":1.9},{"s":"c","x":0.057,"y":2.4},{"s":"c","x":0.063,"y":2.9},{"s":"c","x":0.059,"y":3.4},{"s":"c","x":0.066,"y":3.9},{"s":"c","x":0.054,"y":4.4},{"s":"c","x":0.068,"y":1.15},{"s":"c","x":0.072,"y":1.65},{"s":"c","x":0.075,"y":2.15},{"s":"c","x":0.07,"y":2.65},{"s":"c","x":0.078,"y":3.2},{"s":"c","x":0.073,"y":4.6},{"s":"c","x":0.081,"y":0.65},{"s":"c","x":0.086,"y":1.35},{"s":"c","x":0.09,"y":2.45},{"s":"c","x":0.084,"y":3.6},{"s":"c","x":0.092,"y":4.3},{"s":"c","x":0.097,"y":1.0},{"s":"c","x":0.099,"y":3.1},{"s":"c","x":0.103,"y":2.0},{"s":"c","x":0.108,"y":4.9},{"s":"c","x":0.111,"y":1.6},{"s":"c","x":0.115,"y":6.75},{"s":"c","x":0.119,"y":5.89},{"s":"c","x":0.119,"y":5.1},{"s":"c","x":0.121,"y":2.7},{"s":"c","x":0.126,"y":3.9},{"s":"c","x":0.13,"y":1.7},{"s":"c","x":0.133,"y":4.5},{"s":"c","x":0.137,"y":1.88},{"s":"c","x":0.142,"y":2.11},{"s":"c","x":0.146,"y":3.3},{"s":"c","x":0.151,"y":4.7},{"s":"c","x":0.157,"y":1.42},{"s":"c","x":0.158,"y":5.96},{"s":"c","x":0.172,"y":3.85},{"s":"c","x":0.176,"y":4.38},{"s":"c","x":0.25,"y":5.04},{"s":"c","x":0.259,"y":2.86},{"s":"c","x":0.125,"y":8.53},{"s":"c","x":0.064,"y":5.95},{"s":"c","x":0.078,"y":5.65},{"s":"c","x":0.085,"y":5.21},{"s":"c","x":0.114,"y":5.21},{"s":"c","x":0.121,"y":4.9},{"s":"c","x":0.15,"y":4.87},{"s":"c","x":0.157,"y":5.86},{"s":"c","x":0.174,"y":3.89},{"s":"c","x":0.186,"y":4.52},{"s":"c","x":0.119,"y":6.77},{"s":"c","x":0.056,"y":7.13},{"s":"c","x":0.06,"y":7.0},
{"s":"c","x":0.018,"y":17.52},{"s":"c","x":0.001,"y":16.04},{"s":"c","x":0.042,"y":14.52},{"s":"c","x":-0.079,"y":14.32},{"s":"c","x":-0.059,"y":14.13},{"s":"c","x":-0.033,"y":14.33},{"s":"c","x":-0.019,"y":12.41},{"s":"c","x":0.001,"y":12.31},{"s":"c","x":0.01,"y":12.22},{"s":"c","x":0.014,"y":11.67},{"s":"c","x":0.001,"y":11.36},{"s":"c","x":0.033,"y":11.13},{"s":"c","x":0.053,"y":10.47},{"s":"c","x":0.036,"y":8.9},{"s":"c","x":-0.073,"y":11.92},{"s":"c","x":-0.067,"y":11.96},{"s":"c","x":-0.061,"y":10.73},{"s":"c","x":-0.054,"y":10.77},{"s":"c","x":-0.066,"y":9.81},{"s":"c","x":-0.123,"y":9.79},{"s":"c","x":-0.114,"y":9.58},{"s":"c","x":-0.043,"y":9.79},{"s":"c","x":-0.019,"y":9.92},{"s":"c","x":-0.018,"y":9.6},{"s":"c","x":-0.011,"y":9.33},{"s":"c","x":0.001,"y":9.38},{"s":"c","x":0.0096,"y":9.71},{"s":"c","x":0.0145,"y":9.58},{"s":"c","x":-0.025,"y":8.94},{"s":"c","x":-0.089,"y":8.98},{"s":"c","x":-0.091,"y":8.8},{"s":"c","x":-0.084,"y":8.77},{"s":"c","x":-0.102,"y":8.36},{"s":"c","x":-0.066,"y":8.15},{"s":"c","x":-0.118,"y":7.74},{"s":"c","x":-0.074,"y":7.6},{"s":"c","x":-0.052,"y":7.82},{"s":"c","x":-0.018,"y":7.8},{"s":"c","x":0.001,"y":7.96},{"s":"c","x":0.015,"y":8.13},{"s":"c","x":0.021,"y":7.7},{"s":"c","x":0.006,"y":7.77},{"s":"c","x":-0.117,"y":7.31},{"s":"c","x":-0.117,"y":7.08},{"s":"c","x":-0.106,"y":7.1},{"s":"c","x":-0.052,"y":7.2},{"s":"c","x":-0.042,"y":7.41},{"s":"c","x":-0.028,"y":7.31},{"s":"c","x":-0.019,"y":7.31},{"s":"c","x":0.001,"y":7.48},{"s":"c","x":0.035,"y":7.47},{"s":"c","x":0.037,"y":7.46},{"s":"c","x":0.024,"y":7.69},
{"s":"c","x":-0.106,"y":6.78},{"s":"c","x":-0.074,"y":6.9},{"s":"c","x":-0.055,"y":6.68},{"s":"c","x":-0.02,"y":6.91},{"s":"c","x":-0.024,"y":6.68},{"s":"c","x":-0.014,"y":6.73},{"s":"c","x":0.0,"y":6.9},{"s":"c","x":0.029,"y":6.9},{"s":"c","x":0.038,"y":6.83},{"s":"c","x":-0.151,"y":6.31},{"s":"c","x":-0.127,"y":6.42},{"s":"c","x":-0.087,"y":6.19},
{"s":"c","x":-0.057,"y":6.37},{"s":"c","x":-0.052,"y":6.31},{"s":"c","x":-0.054,"y":6.19},{"s":"c","x":-0.009,"y":6.45},{"s":"c","x":-0.006,"y":6.31},{"s":"c","x":0.0,"y":6.25},{"s":"c","x":0.018,"y":6.31},{"s":"c","x":0.024,"y":6.62},{"s":"c","x":0.036,"y":6.13},{"s":"c","x":0.043,"y":6.51},{"s":"c","x":0.056,"y":6.15},{"s":"c","x":0.063,"y":5.9},{"s":"c","x":0.069,"y":5.21},{"s":"c","x":-0.09,"y":5.82},{"s":"c","x":-0.075,"y":5.85},{"s":"c","x":-0.064,"y":5.9},{"s":"c","x":-0.058,"y":5.79},{"s":"c","x":-0.04,"y":5.99},{"s":"c","x":-0.03,"y":5.96},{"s":"c","x":-0.022,"y":5.9},{"s":"c","x":-0.012,"y":6.02},{"s":"c","x":0.011,"y":5.5},{"s":"c","x":0.029,"y":5.62},{"s":"c","x":0.033,"y":5.33},{"s":"c","x":0.047,"y":5.44},{"s":"c","x":-0.076,"y":5.53},{"s":"c","x":-0.069,"y":5.56},{"s":"c","x":-0.06,"y":5.67},{"s":"c","x":-0.107,"y":5.39},{"s":"c","x":-0.095,"y":5.21},{"s":"c","x":-0.112,"y":4.98},{"s":"c","x":-0.102,"y":5.1},{"s":"c","x":-0.093,"y":4.98},{"s":"c","x":-0.084,"y":4.98},{"s":"c","x":-0.12,"y":5.16},{"s":"c","x":-0.151,"y":4.98},{"s":"c","x":-0.13,"y":4.78},{"s":"c","x":-0.15,"y":4.75},
{"s":"r","x":-0.206,"y":6.42},{"s":"r","x":-0.163,"y":7.31},{"s":"r","x":-0.129,"y":6.03},{"s":"r","x":-0.123,"y":4.38},{"s":"r","x":-0.083,"y":10.34},{"s":"r","x":-0.059,"y":11.69},{"s":"r","x":-0.048,"y":15.08},{"s":"r","x":-0.034,"y":23.87},{"s":"r","x":-0.017,"y":14.62},{"s":"r","x":0.043,"y":16.13},{"s":"r","x":0.047,"y":13.34},{"s":"r","x":0.06,"y":12.64},{"s":"r","x":0.036,"y":11.39},{"s":"r","x":0.099,"y":12.81},{"s":"r","x":0.126,"y":10.04},{"s":"r","x":0.155,"y":16.92},{"s":"r","x":0.16,"y":16.0},{"s":"r","x":0.206,"y":13.07},{"s":"r","x":0.222,"y":9.19},{"s":"r","x":0.175,"y":8.86},{"s":"r","x":0.131,"y":8.26},{"s":"r","x":0.093,"y":8.73},{"s":"r","x":0.086,"y":8.26},{"s":"r","x":-0.019,"y":9.22},{"s":"r","x":-0.012,"y":8.33},{"s":"r","x":-0.026,"y":7.74},{"s":"r","x":-0.036,"y":7.15},{"s":"r","x":0.031,"y":7.51},{"s":"r","x":0.049,"y":7.67},{"s":"r","x":0.196,"y":7.51},{"s":"r","x":0.22,"y":7.31},{"s":"r","x":0.179,"y":6.95},{"s":"r","x":0.263,"y":6.49},{"s":"r","x":0.286,"y":4.91},{"s":"r","x":0.192,"y":5.14},{"s":"r","x":0.206,"y":4.84},{"s":"r","x":0.2,"y":4.25},{"s":"r","x":0.227,"y":3.89},{"s":"r","x":0.231,"y":3.33},{"s":"r","x":0.255,"y":3.79},{"s":"r","x":0.267,"y":4.02},{"s":"r","x":0.206,"y":2.57},{"s":"r","x":0.168,"y":3.72},{"s":"r","x":0.171,"y":3.03},{"s":"r","x":0.172,"y":2.21},{"s":"r","x":0.312,"y":2.7},{"s":"r","x":0.326,"y":2.77},{"s":"r","x":0.369,"y":3.19},{"s":"r","x":0.391,"y":2.93},{"s":"r","x":0.416,"y":3.65},{"s":"r","x":0.47,"y":3.72},{"s":"r","x":0.53,"y":2.14},{"s":"r","x":0.563,"y":3.59},{"s":"r","x":0.572,"y":0.53},{"s":"r","x":0.127,"y":1.35},{"s":"r","x":0.105,"y":0.69},{"s":"r","x":0.145,"y":5.5},{"s":"r","x":0.135,"y":5.27},{"s":"r","x":0.114,"y":4.68},{"s":"r","x":0.105,"y":4.84},{"s":"r","x":0.097,"y":4.91},{"s":"r","x":0.116,"y":4.02},{"s":"r","x":0.125,"y":4.18},{"s":"r","x":0.112,"y":3.62},{"s":"r","x":0.107,"y":3.19},{"s":"r","x":0.095,"y":3.85},{"s":"r","x":0.091,"y":3.19},{"s":"r","x":0.09,"y":2.86},{"s":"r","x":0.086,"y":2.14},{"s":"r","x":0.081,"y":5.04},{"s":"r","x":0.075,"y":5.93},{"s":"r","x":0.076,"y":5.4},{"s":"r","x":0.079,"y":3.62},{"s":"r","x":0.073,"y":3.85},{"s":"r","x":0.071,"y":2.9},{"s":"r","x":0.068,"y":2.7},{"s":"r","x":0.057,"y":5.0},{"s":"r","x":0.058,"y":4.44},{"s":"r","x":0.045,"y":4.71},{"s":"r","x":0.041,"y":5.83},{"s":"r","x":0.036,"y":5.7},{"s":"r","x":0.045,"y":2.96},{"s":"r","x":0.05,"y":3.36},{"s":"r","x":0.054,"y":4.02},{"s":"r","x":0.048,"y":2.44},{"s":"r","x":0.042,"y":2.27},{"s":"r","x":0.039,"y":1.71},{"s":"r","x":0.036,"y":1.48},{"s":"r","x":0.056,"y":1.28},{"s":"r","x":0.067,"y":1.78},{"s":"r","x":0.077,"y":1.09},{"s":"r","x":0.079,"y":1.32},{"s":"r","x":0.025,"y":5.0},{"s":"r","x":0.03,"y":4.38},{"s":"r","x":0.023,"y":3.92},{"s":"r","x":0.018,"y":3.36},{"s":"r","x":0.023,"y":2.96},{"s":"r","x":0.026,"y":2.54},{"s":"r","x":0.014,"y":2.6},{"s":"r","x":0.012,"y":3.06},{"s":"r","x":0.017,"y":1.98},{"s":"r","x":0.009,"y":1.09},{"s":"r","x":0.013,"y":1.02},{"s":"r","x":0.006,"y":5.56},{"s":"r","x":0.004,"y":4.68},{"s":"r","x":0.009,"y":4.21},{"s":"r","x":0.001,"y":3.89},{"s":"r","x":0.005,"y":3.36},{"s":"r","x":0.001,"y":2.47},{"s":"r","x":0.006,"y":2.14},{"s":"r","x":-0.002,"y":1.68},{"s":"r","x":-0.005,"y":0.43},{"s":"r","x":-0.007,"y":1.94},{"s":"r","x":-0.011,"y":1.58},{"s":"r","x":-0.016,"y":1.05},{"s":"r","x":-0.015,"y":3.92},{"s":"r","x":-0.016,"y":3.39},{"s":"r","x":-0.017,"y":5.2},{"s":"r","x":-0.024,"y":2.7},{"s":"r","x":-0.027,"y":2.77},{"s":"r","x":-0.025,"y":1.81},{"s":"r","x":-0.031,"y":1.55},{"s":"r","x":-0.033,"y":3.36},{"s":"r","x":-0.033,"y":3.62},{"s":"r","x":-0.033,"y":4.21},{"s":"r","x":-0.04,"y":1.65},{"s":"r","x":-0.041,"y":5.0},{"s":"r","x":-0.046,"y":6.02},{"s":"r","x":-0.075,"y":1.61},{"s":"r","x":-0.022,"y":1.81},{"s":"r","x":-0.01,"y":2.3},{"s":"r","x":0.001,"y":1.15},{"s":"r","x":-0.007,"y":1.32},{"s":"r","x":0.022,"y":5.79},{"s":"r","x":0.092,"y":4.4},{"s":"r","x":-0.013,"y":1.93},{"s":"r","x":0.0,"y":2.1},{"s":"r","x":-0.004,"y":1.76},{"s":"r","x":-0.031,"y":1.61},{"s":"r","x":-0.024,"y":1.07},{"s":"r","x":-0.015,"y":0.89},{"s":"r","x":0.007,"y":1.07},{"s":"r","x":-0.019,"y":0.49},{"s":"r","x":-0.004,"y":0.55},{"s":"r","x":0.045,"y":2.16},{"s":"r","x":0.057,"y":1.47},{"s":"r","x":0.092,"y":2.62},{"s":"r","x":0.023,"y":3.25},{"s":"r","x":-0.034,"y":3.48},
{"s":"d","x":0.148,"y":18.27},{"s":"d","x":0.225,"y":13.9},{"s":"d","x":0.111,"y":11.66},{"s":"d","x":0.157,"y":11.33},{"s":"d","x":0.078,"y":10.47},{"s":"d","x":0.067,"y":10.21},{"s":"d","x":0.097,"y":8.26},{"s":"d","x":0.087,"y":7.84},{"s":"d","x":0.076,"y":7.84},{"s":"d","x":0.087,"y":7.01},{"s":"d","x":0.173,"y":7.08},{"s":"d","x":-0.068,"y":6.91},{"s":"d","x":-0.028,"y":6.75},{"s":"d","x":0.102,"y":6.22},{"s":"d","x":0.085,"y":6.16},{"s":"d","x":0.124,"y":6.09},{"s":"d","x":0.051,"y":6.65},{"s":"d","x":0.016,"y":6.22},{"s":"d","x":0.061,"y":5.53},{"s":"d","x":0.072,"y":5.66},{"s":"d","x":0.148,"y":5.17},{"s":"d","x":0.136,"y":5.27},{"s":"d","x":0.177,"y":4.87},{"s":"d","x":0.134,"y":4.81},{"s":"d","x":0.183,"y":4.25},{"s":"d","x":0.137,"y":4.02},{"s":"d","x":0.127,"y":4.18},{"s":"d","x":0.092,"y":4.58},{"s":"d","x":0.082,"y":4.38},{"s":"d","x":0.069,"y":4.51},{"s":"d","x":0.087,"y":4.12},{"s":"d","x":0.163,"y":3.42},{"s":"d","x":0.138,"y":3.79},{"s":"d","x":0.125,"y":3.36},{"s":"d","x":0.118,"y":3.06},{"s":"d","x":0.122,"y":3.19},{"s":"d","x":0.148,"y":2.8},{"s":"d","x":0.128,"y":2.6},{"s":"d","x":0.115,"y":2.24},{"s":"d","x":0.099,"y":1.94},{"s":"d","x":0.095,"y":2.14},{"s":"d","x":0.119,"y":1.05},{"s":"d","x":0.105,"y":0.23},{"s":"d","x":0.105,"y":0.56},{"s":"d","x":0.053,"y":0.66},{"s":"d","x":0.061,"y":3.62},{"s":"d","x":0.055,"y":3.13},{"s":"d","x":0.044,"y":3.92},{"s":"d","x":0.032,"y":3.36},{"s":"d","x":0.023,"y":3.52},{"s":"d","x":0.014,"y":3.79},{"s":"d","x":0.001,"y":4.45},{"s":"d","x":0.008,"y":2.96},{"s":"d","x":0.001,"y":2.37},{"s":"d","x":-0.007,"y":3.13},{"s":"d","x":-0.014,"y":2.63},{"s":"d","x":-0.022,"y":3.03},{"s":"d","x":-0.028,"y":4.12},{"s":"d","x":-0.024,"y":2.14},{"s":"d","x":-0.033,"y":2.37},{"s":"d","x":-0.044,"y":1.91},{"s":"d","x":-0.013,"y":1.48},{"s":"d","x":-0.003,"y":0.89},{"s":"d","x":0.016,"y":1.81},{"s":"d","x":0.034,"y":2.3},{"s":"d","x":0.075,"y":2.47},{"s":"d","x":0.082,"y":1.65},{"s":"d","x":0.045,"y":5.43},{"s":"d","x":0.039,"y":5.27},{"s":"d","x":-0.001,"y":4.69},{"s":"d","x":0.018,"y":4.0},{"s":"d","x":0.03,"y":3.1},{"s":"d","x":0.06,"y":2.2},{"s":"d","x":-0.015,"y":1.2},{"s":"d","x":0.02,"y":0.8},{"s":"d","x":0.11,"y":1.4},{"s":"d","x":0.1,"y":3.7},{"s":"d","x":0.066,"y":4.05},{"s":"d","x":0.14,"y":2.3},{"s":"d","x":0.155,"y":3.1},{"s":"d","x":0.13,"y":1.2},{"s":"d","x":0.015,"y":2.7}
]},
"encoding":{
 "x":{"field":"x","type":"quantitative","scale":{"domain":[-0.3,0.7],"nice":false,"zero":false},
  "axis":{"title":"Charge per residue","values":[-0.3,-0.2,-0.1,0,0.1,0.2,0.3,0.4,0.5,0.6,0.7],"labelExpr":"toString(round(datum.value*10)/10)","labelPadding":72,"titleX":2392,"titleY":354,"titleBaseline":"alphabetic","titleAlign":"center"}},
 "y":{"field":"y","type":"quantitative","scale":{"domain":[0,30],"nice":false},
  "axis":{"title":"Dipole moment per residue (Debyes)","values":[0,5,10,15,20,25,30],"labelPadding":56,"titleX":-266,"titleY":1696,"titleAngle":-90,"titleBaseline":"alphabetic","titleAlign":"center"}},
 "fill":{"field":"s","type":"nominal","scale":{"domain":["c","r","d"],"range":["#104a88","#ff4412","transparent"]},
  "legend":{"orient":"none","legendX":2492,"legendY":299,"direction":"horizontal","title":" ","titleOrient":"left","titleFontSize":10,"titlePadding":158,"padding":95,"strokeColor":"#a8a8a8","fillColor":"#ffffff","labelFont":"Liberation Sans","labelFontSize":106,"labelColor":"#000000","labelOffset":0,"labelLimit":3000,"columnPadding":245,"symbolSize":2900,"symbolStrokeWidth":3,"labelExpr":"datum.label == 'c' ? 'Control' : datum.label == 'r' ? 'RBP' : 'DBP        '",
   "encode":{"legend":{"update":{"strokeWidth":{"value":4}}}}}},
 "stroke":{"field":"s","type":"nominal","scale":{"domain":["c","r","d"],"range":["transparent","transparent","#3c8f62"]}},
 "shape":{"field":"s","type":"nominal","scale":{"domain":["c","r","d"],"range":["M-0.35,-0.35L0.35,-0.35L0.35,0.35L-0.35,0.35Z","M0,-1L1,0L0,1L-1,0Z","M-1,-1L1,1M-1,1L1,-1"]}}
},
"layer":[
 {"transform":[{"filter":"datum.s == 'c'"}],"mark":{"type":"point","size":3265,"strokeWidth":3,"opacity":1}},
 {"transform":[{"filter":"datum.s == 'r'"}],"mark":{"type":"point","size":2900,"strokeWidth":3,"opacity":1}},
 {"transform":[{"filter":"datum.s == 'd'"}],"mark":{"type":"point","size":2700,"strokeWidth":3,"opacity":1}}
]
}
